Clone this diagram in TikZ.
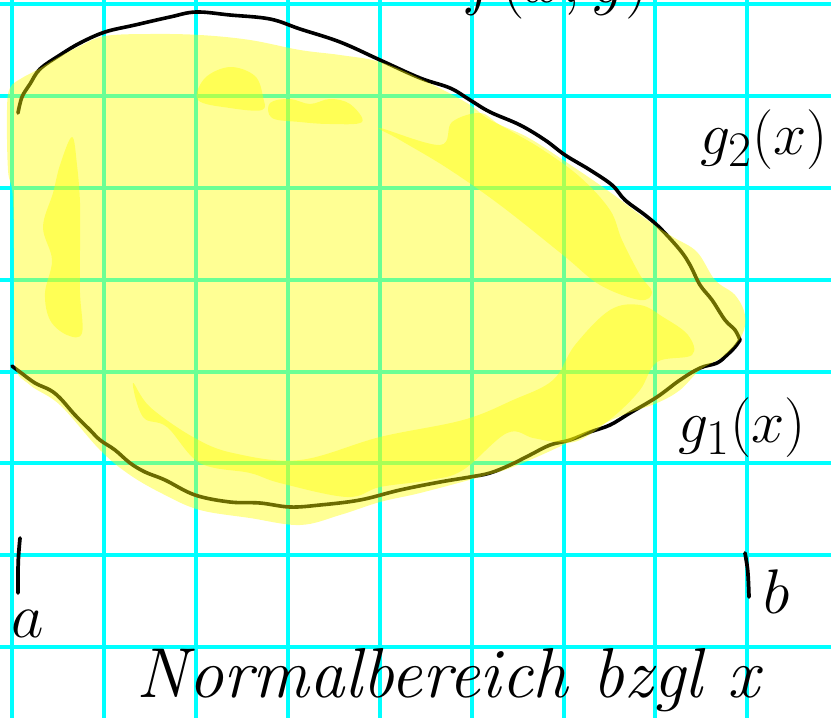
\documentclass[tikz,border=0pt]{standalone}
\definecolor{gridcyan}{RGB}{0,255,255}
\definecolor{hlyellow}{RGB}{255,255,0}
\begin{document}
\begin{tikzpicture}[x=0.75pt,y=-0.75pt,
  gridline/.style={gridcyan, line width=2.3pt},
  curve/.style={black, line width=2.7pt, line cap=round, line join=round},
  tick/.style={black, line width=2.8pt, line cap=round},
  hl/.style={fill=hlyellow, fill opacity=0.42},
  lbl/.style={inner sep=0pt, font=\Huge}]
\useasboundingbox (0,0) rectangle (831,718);
\clip (0,0) rectangle (831,718);
\fill[white] (0,0) rectangle (831,718);
% grid
\foreach \x in {12,104,196,288,380,472,564,655,747} \draw[gridline] (\x,0) -- (\x,718);
\foreach \y in {4,96,188,280,372,463,555,647} \draw[gridline] (0,\y) -- (831,\y);
% curves
\draw[curve] plot[smooth, tension=0.6] coordinates {(18,113) (22,97) (30,84) (40,69) (60,55) (80,43) (105,32) (135,25) (170,17) (196,12) (230,15) (270,19) (300,29) (340,42) (380,60) (420,78) (450,88) (470,100) (490,112) (520,125) (545,140) (565,155) (590,170) (612,185) (625,200) (645,215) (660,228) (680,250) (690,265) (700,285) (712,300) (725,320) (735,330) (740,340)};
\draw[curve] plot[smooth, tension=0.6] coordinates {(12,366) (20,372) (35,383) (50,390) (60,398) (75,415) (90,430) (100,440) (115,450) (130,463) (145,472) (165,480) (195,495) (230,502) (260,503) (290,507) (320,505) (360,500) (400,490) (440,482) (470,477) (490,473) (510,465) (530,455) (550,445) (570,440) (590,432) (610,425) (630,413) (657,397) (680,380) (700,368) (717,363) (727,355) (735,347) (740,340)};
% highlighter: outer layer
\fill[hl] plot[smooth cycle, tension=0.6] coordinates {(7,110) (10,88) (22,78) (37,70) (57,58) (80,46) (105,36) (150,34) (200,35) (250,40) (300,50) (340,55) (380,62) (423,80) (467,103) (490,120) (527,137) (563,160) (607,190) (647,220) (673,237) (697,252) (715,280) (735,295) (745,315) (742,335) (725,355) (700,370) (680,390) (657,403) (623,415) (597,427) (563,445) (513,467) (480,477) (420,493) (380,502) (340,515) (300,525) (250,518) (200,510) (165,495) (130,475) (100,450) (60,405) (30,385) (15,365) (14,300) (13,200) (8,170)};
% highlighter: second layer strokes
\fill[hl] plot[smooth cycle, tension=0.6] coordinates {(72,137) (60,165) (53,193) (43,227) (52,260) (45,293) (50,320) (67,335) (82,333) (80,293) (80,250) (80,203) (77,165)};
\fill[hl] plot[smooth cycle, tension=0.6] coordinates {(198,100) (205,78) (230,67) (255,76) (263,97) (262,110) (230,108)};
\fill[hl] plot[smooth cycle, tension=0.6] coordinates {(270,103) (290,99) (310,104) (330,99) (350,104) (362,122) (330,124) (300,122) (272,118)};
\fill[hl] plot[smooth cycle, tension=0.6] coordinates {(380,128) (440,145) (452,122) (480,113) (500,125) (540,148) (580,177) (610,210) (622,240) (640,275) (652,292) (640,300) (600,285) (563,255) (500,205) (447,168) (400,140)};
\fill[hl] plot[smooth cycle, tension=0.6] coordinates {(133,383) (150,407) (193,437) (233,453) (300,460) (380,437) (463,420) (513,400) (553,380) (575,345) (610,310) (640,305) (663,317) (688,335) (692,355) (657,362) (640,390) (613,417) (580,440) (557,442) (533,438) (507,433) (463,470) (430,480) (380,487) (347,497) (280,483) (250,473) (200,463) (167,427) (143,417)};
% ticks
\draw[tick] (20,538) .. controls (18,560) .. (18,593);
\draw[tick] (745,553) .. controls (748,570) .. (749,597);
% labels
\node[lbl, anchor=base west, scale=2.0] (fxy) at (462,2) {$f(x,y)$};
\node[lbl, scale=1.8] (g2) at (764,140) {$g_2(x)$};
\node[lbl, scale=1.8] (g1) at (742,428) {$g_1(x)$};
\node[lbl, scale=1.9] (a) at (28,624) {$a$};
\node[lbl, scale=1.9] (b) at (777,592) {$b$};
\node[lbl, anchor=base, font=\fontsize{53}{53}\selectfont\itshape] (title) at (448,697) {Normalbereich bzgl x};
\end{tikzpicture}
\end{document}
